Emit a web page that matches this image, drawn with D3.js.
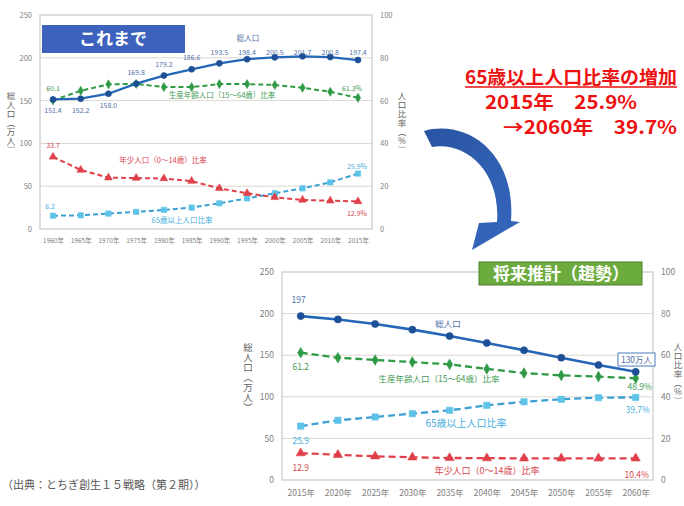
<!DOCTYPE html>
<html>
<head>
<meta charset="utf-8">
<script src="https://cdn.jsdelivr.net/npm/d3@7/dist/d3.min.js"></script>
<style>
  html, body { margin: 0; padding: 0; background: #fff; }
  svg { display: block; font-family: "Noto Sans CJK JP", "Noto Sans", sans-serif; }
</style>
</head>
<body>
<svg id="chart" width="684" height="506"></svg>
<script>
// ---- これまで (1960–2015) ----
const pastYears = ["1960年","1965年","1970年","1975年","1980年","1985年","1990年","1995年","2000年","2005年","2010年","2015年"];
const pastTotal = [151.4, 152.2, 158.0, 169.8, 179.2, 186.6, 193.5, 198.4, 200.5, 201.7, 200.8, 197.4];
const pastWorking = [60.1, 64.6, 67.6, 67.8, 66.3, 66.3, 67.7, 67.7, 67.3, 66.0, 64.1, 61.3];
const pastYoung = [33.7, 27.6, 24.0, 23.8, 23.6, 22.4, 19.0, 16.7, 14.8, 13.6, 13.2, 12.9];
const pastElderly = [6.2, 6.4, 7.2, 8.0, 8.9, 10.0, 12.0, 14.3, 16.7, 19.0, 21.8, 25.9];

// ---- 将来推計 (2015–2060) ----
const futureYears = ["2015年","2020年","2025年","2030年","2035年","2040年","2045年","2050年","2055年","2060年"];
const futureTotal = [197, 193, 187.5, 180.7, 173, 164.7, 155.9, 147, 138.2, 130];
const futureWorking = [61.2, 58.8, 57.7, 56.7, 55.6, 53.4, 51.4, 50.3, 49.7, 48.9];
const futureYoung = [12.9, 12.1, 11.4, 10.9, 10.6, 10.5, 10.4, 10.4, 10.4, 10.4];
const futureElderly = [25.9, 28.7, 30.3, 31.9, 33.5, 35.9, 37.6, 38.8, 39.6, 39.7];

const leftTicks = [0, 50, 100, 150, 200, 250];
const rightTicks = [0, 20, 40, 60, 80, 100];

const svg = d3.select("#chart");

const C = {
  total: "#2466b8", totalMark: "#1d4f96", totalText: "#4f6fa8",
  working: "#2f9a45", workingText: "#3f9a52",
  young: "#e0404a", youngText: "#d8464e",
  elderly: "#3c9fd2", elderlyMark: "#5ec3e8", elderlyText: "#45aedc",
  axisText: "#808080", grid: "#dcd8d2", frame: "#c8c8c8"
};

function panel(o) {
  const g = svg.append("g");
  const x = d3.scalePoint().domain(o.years).range([o.x0, o.x1]);
  const yL = d3.scaleLinear().domain([0, 250]).range([o.bottom, o.top]);
  const yR = d3.scaleLinear().domain([0, 100]).range([o.bottom, o.top]);

  // grid
  g.selectAll("line.grid").data(leftTicks.slice(1, -1)).join("line")
    .attr("x1", o.fl).attr("x2", o.fr)
    .attr("y1", d => yL(d)).attr("y2", d => yL(d))
    .attr("stroke", C.grid).attr("stroke-width", 1);
  // frame
  g.append("rect").attr("x", o.fl).attr("y", o.top).attr("width", o.fr - o.fl)
    .attr("height", o.bottom - o.top).attr("fill", "none")
    .attr("stroke", C.frame).attr("stroke-width", 1.2);

  // axes
  const ax = g.append("g").attr("transform", `translate(${o.fl - 4},0)`)
    .call(d3.axisLeft(yL).tickValues(leftTicks).tickSize(0).tickPadding(4));
  const ar = g.append("g").attr("transform", `translate(${o.fr + 4},0)`)
    .call(d3.axisRight(yR).tickValues(rightTicks).tickSize(0).tickPadding(4));
  const ab = g.append("g").attr("transform", `translate(0,${o.bottom})`)
    .call(d3.axisBottom(x).tickSize(0).tickPadding(o.xPad));
  [ax, ar, ab].forEach(a => {
    a.select(".domain").remove();
    a.selectAll("text").attr("fill", C.axisText).attr("font-size", o.tickFs)
      .attr("font-family", "'Noto Sans CJK JP', sans-serif");
  });
  ab.selectAll("text").attr("font-size", o.xFs);

  // axis titles (vertical)
  [[o.ltx, "総人口（万人）", o.titleFs], [o.rtx, "人口比率（%）", o.rTitleFs]].forEach(([tx, s, fs]) => {
    g.append("text").attr("x", tx).attr("y", o.titleY)
      .attr("font-size", fs).attr("fill", "#606060")
      .style("writing-mode", "vertical-rl").style("text-orientation", "upright")
      .attr("letter-spacing", 0.5).text(s);
  });

  const series = (vals, scale, color, w, dash) => {
    g.append("path").datum(vals)
      .attr("d", d3.line().x((d, i) => x(o.years[i])).y(d => scale(d)))
      .attr("fill", "none").attr("stroke", color).attr("stroke-width", w)
      .attr("stroke-dasharray", dash);
  };
  const markers = (vals, scale, type, color, size) => {
    g.selectAll(null).data(vals).join("path")
      .attr("transform", (d, i) => `translate(${x(o.years[i])},${scale(d)})`)
      .attr("d", d3.symbol().type(type).size(size))
      .attr("fill", color).attr("stroke", color).attr("stroke-width", 0.6)
      .attr("stroke-linejoin", "round");
  };

  series(o.elderly, yR, C.elderly, o.lw, o.dash);
  markers(o.elderly, yR, d3.symbolSquare, C.elderlyMark, o.ms * 1.1);
  series(o.young, yR, C.young, o.lw, o.dash);
  markers(o.young, yR, d3.symbolTriangle, C.young, o.ms);
  series(o.working, yR, C.working, o.lw, o.dash);
  markers(o.working, yR, d3.symbolDiamond, C.working, o.ms * 0.9);
  series(o.total, yL, C.total, o.lw + 0.3, null);
  markers(o.total, yL, d3.symbolCircle, C.totalMark, o.ms * 1.1);

  return { g, x, yL, yR };
}

const label = (g, x, y, s, color, fs, anchor = "middle") =>
  g.append("text").attr("x", x).attr("y", y).attr("text-anchor", anchor)
    .attr("font-size", fs).attr("fill", color).text(s);

// ---------- upper panel ----------
const P1 = panel({
  years: pastYears, total: pastTotal, working: pastWorking, young: pastYoung, elderly: pastElderly,
  x0: 53, x1: 358, top: 15, bottom: 229, fl: 40, fr: 372,
  tickFs: 7.5, xFs: 6.5, xPad: 9, lw: 2, dash: "5,3", ms: 26,
  ltx: 11, rtx: 402, titleY: 92, titleFs: 8.5, rTitleFs: 8.5
});
{
  const { g, x, yL, yR } = P1;
  pastTotal.forEach((v, i) => {
    const px = x(pastYears[i]), py = yL(v);
    const y = i < 3 ? py + 14 : Math.max(py - 9, 55);
    label(g, px, y, v.toFixed(1), C.totalText, 7);
  });
  label(g, 248, 41, "総人口", C.totalText, 7.5);
  label(g, x(pastYears[0]), yR(pastWorking[0]) - 9, pastWorking[0].toFixed(1), C.workingText, 7);
  label(g, x(pastYears[11]) - 6, yR(pastWorking[11]) - 7, pastWorking[11] + "%", C.workingText, 7);
  label(g, 222, 98, "生産年齢人口（15～64歳）比率", C.workingText, 7.5);
  label(g, x(pastYears[0]), yR(pastYoung[0]) - 9, pastYoung[0].toFixed(1), C.youngText, 7);
  label(g, x(pastYears[11]) - 1, yR(pastYoung[11]) + 15, pastYoung[11] + "%", C.youngText, 7);
  label(g, 163, 163, "年少人口（0～14歳）比率", C.youngText, 7.5);
  label(g, x(pastYears[0]) - 3, yR(pastElderly[0]) - 7, pastElderly[0].toFixed(1), C.elderlyText, 7);
  label(g, x(pastYears[11]) - 1, yR(pastElderly[11]) - 5, pastElderly[11] + "%", C.elderlyText, 7);
  label(g, 182, 223, "65歳以上人口比率", C.elderlyText, 7.5);

  g.append("rect").attr("x", 42).attr("y", 25).attr("width", 143).attr("height", 28)
    .attr("fill", "#3d62be");
  g.append("text").attr("x", 113).attr("y", 45).attr("text-anchor", "middle")
    .attr("font-size", 17).attr("font-weight", "bold").attr("fill", "#fff").text("これまで");
}

// ---------- lower panel ----------
const P2 = panel({
  years: futureYears, total: futureTotal, working: futureWorking, young: futureYoung, elderly: futureElderly,
  x0: 300.7, x1: 635.7, top: 272, bottom: 480, fl: 282, fr: 653,
  tickFs: 8.5, xFs: 8.5, xPad: 10, lw: 2.3, dash: "7,4", ms: 36,
  ltx: 248, rtx: 678, titleY: 343, titleFs: 9.5, rTitleFs: 8.5
});
{
  const { g, x, yL, yR } = P2;
  label(g, x(futureYears[0]) - 2, yL(futureTotal[0]) - 13, String(futureTotal[0]), C.totalText, 8.5);
  label(g, 448, 327, "総人口", C.totalText, 8.5);
  g.append("rect").attr("x", 618).attr("y", 353).attr("width", 37).attr("height", 13)
    .attr("fill", "#fff").attr("stroke", "#4a7bbd").attr("stroke-width", 1);
  label(g, 636.5, 363, futureTotal[9] + "万人", C.totalText, 8.5);

  label(g, x(futureYears[0]), yR(futureWorking[0]) + 17, futureWorking[0].toFixed(1), C.workingText, 8.5);
  label(g, x(futureYears[9]) + 4, yR(futureWorking[9]) + 12, futureWorking[9] + "%", C.workingText, 8.5);
  label(g, 439, 382, "生産年齢人口（15～64歳）比率", C.workingText, 8.5);

  label(g, x(futureYears[0]), yR(futureElderly[0]) + 18, futureElderly[0].toFixed(1), C.elderlyText, 8.5);
  label(g, x(futureYears[9]) + 2, yR(futureElderly[9]) + 16, futureElderly[9] + "%", C.elderlyText, 8.5);
  label(g, 466, 427, "65歳以上人口比率", C.elderlyText, 10);

  label(g, x(futureYears[0]), yR(futureYoung[0]) + 18, futureYoung[0].toFixed(1), C.youngText, 8.5);
  label(g, x(futureYears[9]) + 1, yR(futureYoung[9]) + 20, futureYoung[9] + "%", C.youngText, 8.5);
  label(g, 487, 474, "年少人口（0～14歳）比率", C.youngText, 9);

  g.append("rect").attr("x", 479).attr("y", 262).attr("width", 163).attr("height", 23)
    .attr("fill", "#6cab3e").attr("stroke", "#4d7f2c").attr("stroke-width", 1);
  g.append("text").attr("x", 561).attr("y", 280).attr("text-anchor", "middle")
    .attr("font-size", 17).attr("font-weight", "bold").attr("fill", "#fff").text("将来推計（趨勢）");
}

// ---------- curved arrow from past to projection ----------
const grad = svg.append("defs").append("linearGradient").attr("id", "arrowFill")
  .attr("x1", 0).attr("y1", 0).attr("x2", 1).attr("y2", 1);
grad.append("stop").attr("offset", "0%").attr("stop-color", "#2a54a2");
grad.append("stop").attr("offset", "100%").attr("stop-color", "#3568bf");
svg.append("path")
  .attr("d", "M424,131 C466,119 516,152 511,221 L520,222 L472,250 L479,223 L497,222 C501,172 466,141 432,147 Z")
  .attr("fill", "url(#arrowFill)");

// ---------- callout ----------
const red = "#ee1111";
const callout = svg.append("g").attr("fill", red).attr("font-weight", "bold")
  .attr("font-family", "'Noto Sans CJK JP', sans-serif");
callout.append("text").attr("x", 465).attr("y", 84).attr("font-size", 18)
  .attr("textLength", 212).attr("lengthAdjust", "spacingAndGlyphs").text("65歳以上人口比率の増加");
svg.append("line").attr("x1", 465).attr("x2", 677).attr("y1", 87).attr("y2", 87)
  .attr("stroke", red).attr("stroke-width", 1.5);
callout.append("text").attr("x", 485).attr("y", 109).attr("font-size", 18)
  .attr("textLength", 152).attr("lengthAdjust", "spacingAndGlyphs").text("2015年　" + pastElderly[11] + "%");
callout.append("text").attr("x", 503).attr("y", 134).attr("font-size", 18)
  .attr("textLength", 174).attr("lengthAdjust", "spacingAndGlyphs").text("→2060年　" + futureElderly[9] + "%");

// ---------- source ----------
svg.append("text").attr("x", 2).attr("y", 489).attr("font-size", 11).attr("fill", "#555")
  .text("（出典：とちぎ創生１５戦略（第２期））");
</script>
</body>
</html>
